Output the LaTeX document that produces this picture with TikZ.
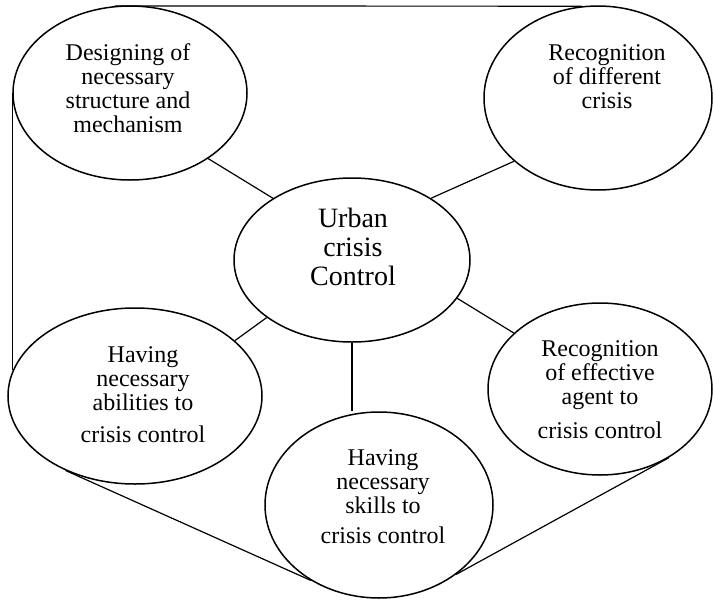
\documentclass[tikz,border=0pt]{standalone}
\usepackage{fontspec}
\setmainfont{Liberation Serif}
\usepackage{tikz}
\usetikzlibrary{
  positioning,
  shapes.geometric
}

\begin{document}
\begin{tikzpicture}[
  x=0.5pt, y=-0.5pt,
  bubble/.style={draw, ellipse, line width=0.75pt, inner sep=0pt},
  txt/.style={align=center, inner sep=0pt, font=\fontsize{12}{12}\selectfont},
  link/.style={line width=0.6pt}
]
\useasboundingbox (0,0) rectangle (713,600);

% Ellipses (width/height in pt = radius in units)
\node[bubble, minimum width=118pt, minimum height=82pt] (urban)  at (352,260) {};
\node[bubble, minimum width=117pt, minimum height=87pt] (design) at (130,93)  {};
\node[bubble, minimum width=114pt, minimum height=92pt] (recog)  at (598,98)  {};
\node[bubble, minimum width=127pt, minimum height=88pt] (abil)   at (135,396) {};
\node[bubble, minimum width=112pt, minimum height=86pt] (agent)  at (600,389) {};
\node[bubble, minimum width=114pt, minimum height=93pt] (skills) at (379,505) {};

% Texts
\node[txt, font=\fontsize{14}{14.5}\selectfont] (urban-t) at (353,247)
  {Urban\\crisis\\Control};
\node[txt] (design-t) at (128,88) {Designing of\\necessary\\structure and\\mechanism};
\node[txt] (recog-t)  at (607,77) {Recognition\\of different\\crisis};
\node[txt] (abil-t)   at (143,395) {Having\\necessary\\abilities to\\[4pt]crisis control};
\node[txt] (agent-t)  at (600,390) {Recognition\\of effective\\agent to\\[5pt]crisis control};
\node[txt] (skills-t) at (383,497) {Having\\necessary\\skills to\\[3pt]crisis control};

% Spokes from the centre
\draw[link] (urban.142) -- (design.320);
\draw[link] (urban.38)  -- (recog.217);
\draw[link] (urban.214) -- (abil.29);
\draw[link] (urban.340) -- (agent.147);
\draw[link] (urban.south) -- (urban.south |- skills.north);

% Outer frame
\draw[link] (design.100) -- (recog.100);
\draw[link] (design.west) -- (design.west |- abil.168);
\draw[link] (abil.227) -- (skills.228);
\draw[link] (agent.315) -- (skills.318);

\end{tikzpicture}
\end{document}
